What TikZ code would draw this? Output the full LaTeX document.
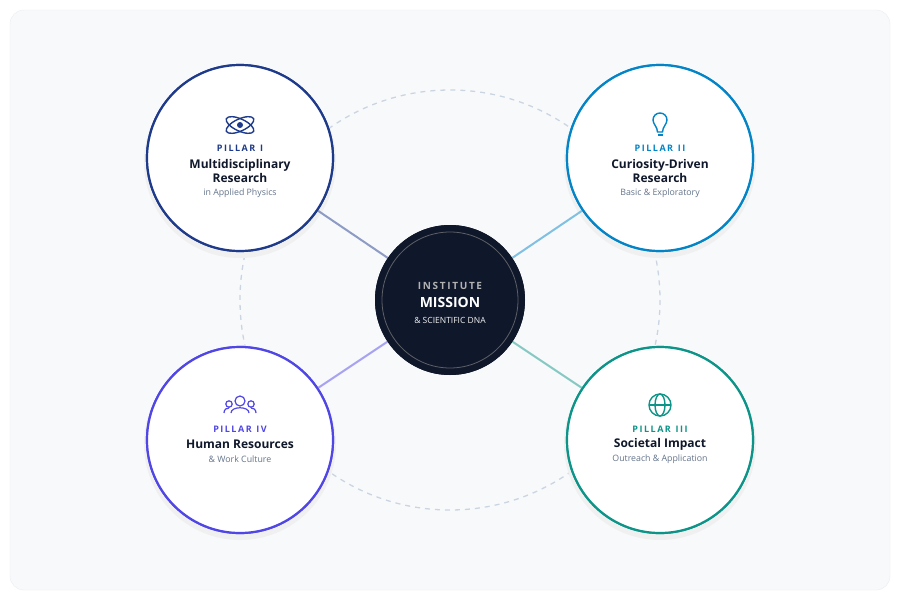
\documentclass[tikz,border=0pt]{standalone}
\usepackage{fontspec}
\setmainfont{Open Sans}
\usetikzlibrary{positioning}
\definecolor{bgpage}{HTML}{F8F9FB}
\definecolor{pone}{HTML}{1E3A8A}
\definecolor{ptwo}{HTML}{0284C7}
\definecolor{pthree}{HTML}{0D9488}
\definecolor{pfour}{HTML}{4F46E5}
\definecolor{ink}{HTML}{0F172A}
\definecolor{subgray}{HTML}{64748B}
\definecolor{ringgray}{HTML}{CBD5E1}
\tikzset{
  pillar/.style={circle, draw=#1, line width=2.2pt, fill=white, minimum size=186pt, inner sep=0pt},
  link/.style={line width=2pt, draw=#1},
  tag/.style={font=\bfseries\fontsize{9}{10}\selectfont, text=#1},
  head/.style={font=\bfseries\fontsize{12}{13.5}\selectfont, text=ink, align=center},
  sub/.style={font=\fontsize{8.8}{10}\selectfont, text=subgray},
  icon/.style={line width=1.4pt, draw=#1}
}
\begin{document}
\begin{tikzpicture}[x=1pt,y=-1pt]
  \useasboundingbox (0,0) rectangle (900,600);
  \fill[white] (0,0) rectangle (900,600);
  \draw[fill=bgpage, draw=ringgray!40, rounded corners=14pt] (10,10) rectangle (890,590);
  % dashed orbit
  \draw[ringgray, line width=1.3pt, dash pattern=on 5pt off 5pt] (450,300) circle (210);
  % centre
  \node[circle, fill=ink, minimum size=150pt, inner sep=0pt] (mission) at (450,300) {};
  % pillars
  \fill[gray!12] (240,162) circle (96);
  \fill[gray!12] (660,162) circle (96);
  \fill[gray!12] (240,444) circle (96);
  \fill[gray!12] (660,444) circle (96);
  \node[pillar=pone] (pI) at (240,158) {};
  \node[pillar=ptwo] (pII) at (660,158) {};
  \node[pillar=pthree] (pIII) at (660,440) {};
  \node[pillar=pfour] (pIV) at (240,440) {};
  % connectors
  \draw[link=pone!50] (mission) -- (pI);
  \draw[link=ptwo!50] (mission) -- (pII);
  \draw[link=pthree!50] (mission) -- (pIII);
  \draw[link=pfour!50] (mission) -- (pIV);
  \node[pillar=pone] at (pI) {};
  \node[pillar=ptwo] at (pII) {};
  \node[pillar=pthree] at (pIII) {};
  \node[pillar=pfour] at (pIV) {};
  \node[circle, fill=ink, minimum size=150pt, inner sep=0pt] at (mission) {};
  \draw[gray!70!ink, line width=0.8pt] (mission.center) circle (68);
  % centre text
  \node[font=\bfseries\fontsize{10}{12}\selectfont, text=gray!60!white] (inst) at (450,286) {I\,N\,S\,T\,I\,T\,U\,T\,E};
  \node[font=\bfseries\fontsize{14}{16}\selectfont, text=white] (mis) at (450,302) {MISSION};
  \node[font=\fontsize{8.5}{10}\selectfont, text=white!90!gray] (dna) at (450,320) {\& SCIENTIFIC DNA};
  % pillar I
  \begin{scope}[shift={(240,125)}]
    \draw[icon=pone] (0,0) ellipse [x radius=15, y radius=6, rotate=25];
    \draw[icon=pone] (0,0) ellipse [x radius=15, y radius=6, rotate=-25];
    \fill[pone] (0,0) circle (3);
  \end{scope}
  \node[tag=pone] (tI) at (240,148) {P\,I\,L\,L\,A\,R\ \ I};
  \node[head] (hI) at (240,171) {Multidisciplinary\\Research};
  \node[sub] (sI) at (240,193) {in Applied Physics};
  % pillar II
  \begin{scope}[shift={(660,124)}]
    \draw[icon=ptwo] (-2.5,8) .. controls (-2.5,3) and (-7,0) .. (-7,-4)
      arc (180:360:7) .. controls (7,0) and (2.5,3) .. (2.5,8) -- cycle;
    \draw[icon=ptwo] (-2.5,11) -- (2.5,11);
  \end{scope}
  \node[tag=ptwo] (tII) at (660,148) {P\,I\,L\,L\,A\,R\ \ I\,I};
  \node[head] (hII) at (660,171) {Curiosity-Driven\\Research};
  \node[sub] (sII) at (660,193) {Basic \& Exploratory};
  % pillar III
  \begin{scope}[shift={(660,405)}]
    \draw[icon=pthree] (0,0) circle (11);
    \draw[icon=pthree] (0,0) ellipse [x radius=5, y radius=11];
    \draw[icon=pthree] (-11,0) -- (11,0);
  \end{scope}
  \node[tag=pthree] (tIII) at (660,429) {P\,I\,L\,L\,A\,R\ \ I\,I\,I};
  \node[head] (hIII) at (660,444) {Societal Impact};
  \node[sub] (sIII) at (660,459) {Outreach \& Application};
  % pillar IV
  \begin{scope}[shift={(240,405)}]
    \draw[icon=pfour, line width=1.2pt] (0,-4) circle (5);
    \draw[icon=pfour, line width=1.2pt] (-9,8) .. controls (-9,1) and (9,1) .. (9,8);
    \draw[icon=pfour, line width=1.2pt] (-11,-1) circle (3.2);
    \draw[icon=pfour, line width=1.2pt] (11,-1) circle (3.2);
    \draw[icon=pfour, line width=1.2pt] (-16,8) .. controls (-16,4) and (-13,3) .. (-11,3);
    \draw[icon=pfour, line width=1.2pt] (16,8) .. controls (16,4) and (13,3) .. (11,3);
  \end{scope}
  \node[tag=pfour] (tIV) at (240,429) {P\,I\,L\,L\,A\,R\ \ I\,V};
  \node[head] (hIV) at (240,444) {Human Resources};
  \node[sub] (sIV) at (240,459) {\& Work Culture};
\end{tikzpicture}
\end{document}
